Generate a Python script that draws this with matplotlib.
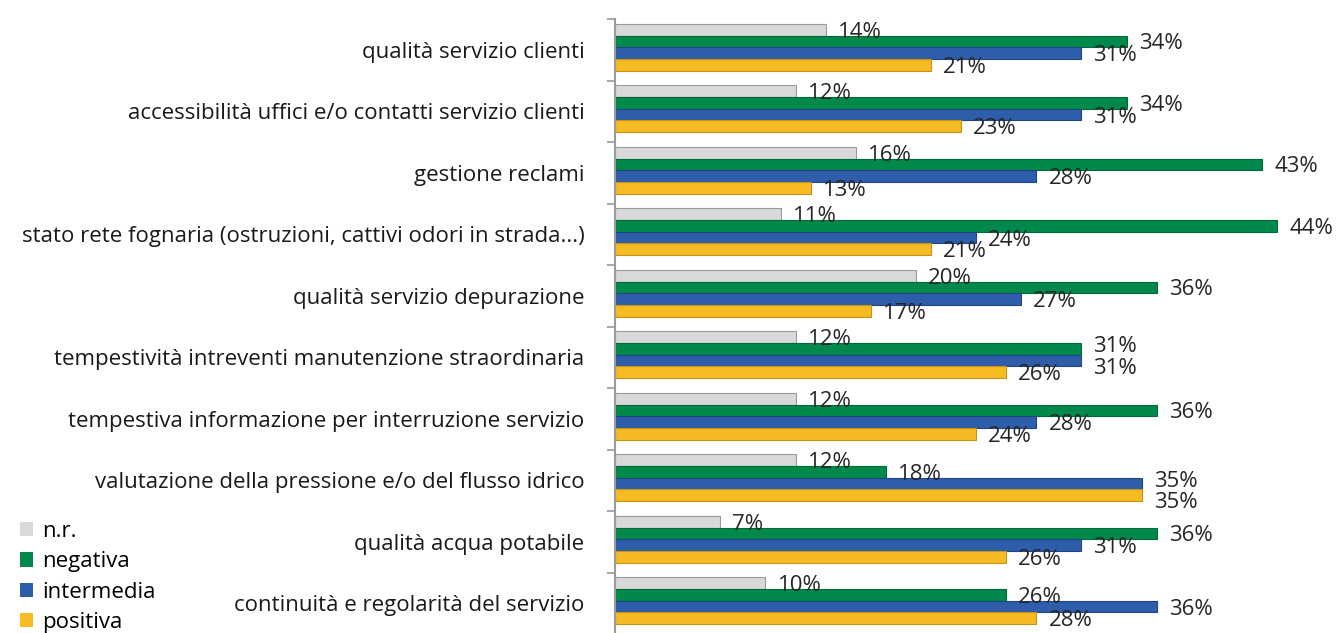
import numpy as np
import matplotlib.pyplot as plt
from matplotlib.patches import Patch

plt.rcParams['font.family'] = ['Open Sans', 'DejaVu Sans']

categories = [
    'qualità servizio clienti',
    'accessibilità uffici e/o contatti servizio clienti',
    'gestione reclami',
    'stato rete fognaria (ostruzioni, cattivi odori in strada...)',
    'qualità servizio depurazione',
    'tempestività intreventi manutenzione straordinaria',
    'tempestiva informazione per interruzione servizio',
    'valutazione della pressione e/o del flusso idrico',
    'qualità acqua potabile',
    'continuità e regolarità del servizio',
]
nr = [14, 12, 16, 11, 20, 12, 12, 12, 7, 10]
negativa = [34, 34, 43, 44, 36, 31, 36, 18, 36, 26]
intermedia = [31, 31, 28, 24, 27, 31, 28, 35, 31, 36]
positiva = [21, 23, 13, 21, 17, 26, 24, 35, 26, 28]

series = [
    ('n.r.', nr, '#D9D9D9', '#9A9A9A'),
    ('negativa', negativa, '#00894A', '#006B39'),
    ('intermedia', intermedia, '#2E5DAA', '#1F4585'),
    ('positiva', positiva, '#F6BA22', '#C8921A'),
]

fig = plt.figure(figsize=(13.4, 6.33), dpi=100)
ax = fig.add_axes([615 / 1340, -1 / 633, 1 - 615 / 1340 - 0.002, (634 - 19) / 633])

n = len(categories)
y = np.arange(n)
h = 0.19
shift = -0.04
fs = 16
for i, (name, vals, col, edge) in enumerate(series):
    pos = y + shift + (i - 1.5) * h
    ax.barh(pos, vals, height=h, color=col, edgecolor=edge, linewidth=0.8)

# value labels, pushed apart when neighbouring bars have near equal values
for k in range(n):
    vals = [s[1][k] for s in series]
    offs = [0.04] * 4
    for i in range(3):
        if abs(vals[i] - vals[i + 1]) <= 2:
            offs[i] -= 0.08
            offs[i + 1] += 0.08
    for i, v in enumerate(vals):
        p = k + shift + (i - 1.5) * h
        ax.text(v + 0.8, p + offs[i], f'{v}%', va='center', ha='left',
                fontsize=fs, color='#262626')

ax.set_xlim(0, 48)
ax.set_ylim(n - 0.5, -0.5)

ax.set_yticks(y)
ax.set_yticklabels(categories, fontsize=fs, color='#1a1a1a')
ax.tick_params(axis='y', which='major', length=0, pad=22)
ax.set_yticks(np.arange(n + 1) - 0.5, minor=True)
ax.tick_params(axis='y', which='minor', length=6, color='#9A9A9A', width=1.2)
ax.set_xticks([])

for s in ['top', 'right', 'bottom']:
    ax.spines[s].set_visible(False)
ax.spines['left'].set_color('#9A9A9A')
ax.spines['left'].set_linewidth(1.5)

handles = [Patch(facecolor=c, edgecolor='none', label=name) for name, _, c, _ in series]
fig.legend(handles=handles, loc='lower left', bbox_to_anchor=(20 / 1340, 0.0),
           frameon=False, fontsize=fs, handlelength=0.6, handleheight=0.6,
           handletextpad=0.4, labelspacing=0.42, borderpad=0, borderaxespad=0)

fig.savefig('out.png', dpi=100)
